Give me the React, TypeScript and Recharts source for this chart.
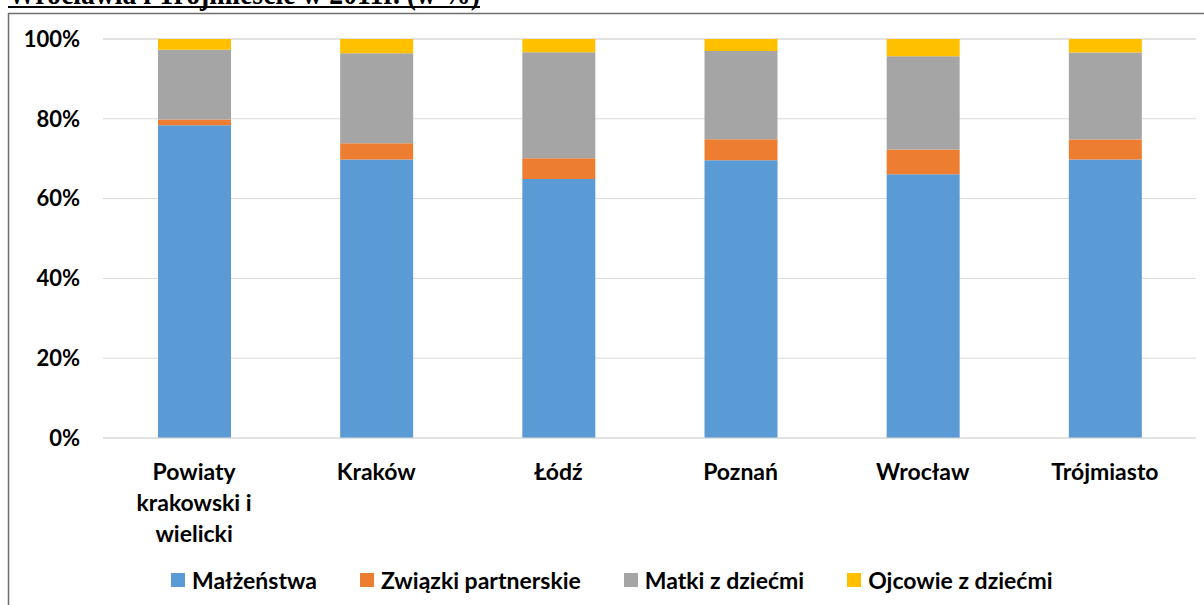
import React from 'react';
import { BarChart, Bar, XAxis, YAxis, CartesianGrid, Legend } from 'recharts';

const categories = ['Powiaty krakowski i wielicki', 'Kraków', 'Łódź', 'Poznań', 'Wrocław', 'Trójmiasto'];
const categoryLines: Record<string, string[]> = {
  'Powiaty krakowski i wielicki': ['Powiaty', 'krakowski i', 'wielicki'],
};
const malzenstwa = [78.4, 69.8, 64.9, 69.6, 66.1, 69.8];
const zwiazki = [1.4, 4.1, 5.2, 5.3, 6.2, 5.0];
const matki = [17.5, 22.5, 26.6, 22.1, 23.4, 21.8];
const ojcowie = [2.7, 3.6, 3.3, 3.0, 4.3, 3.4];
const yTicks = [0, 20, 40, 60, 80, 100];
const title = 'Wrocławia i Trójmieście w 2011r. (w %)';

const SERIES = [
  { key: 'malzenstwa', name: 'Małżeństwa', color: '#5B9BD5' },
  { key: 'zwiazki', name: 'Związki partnerskie', color: '#ED7D31' },
  { key: 'matki', name: 'Matki z dziećmi', color: '#A5A5A5' },
  { key: 'ojcowie', name: 'Ojcowie z dziećmi', color: '#FFC000' },
];

const data = categories.map((name, i) => ({
  name,
  malzenstwa: malzenstwa[i],
  zwiazki: zwiazki[i],
  matki: matki[i],
  ojcowie: ojcowie[i],
}));

const FONT = 'Lato, "Open Sans", sans-serif';

const CategoryTick = ({ x, y, payload }: { x?: number; y?: number; payload?: { value: string } }) => {
  const value = payload?.value ?? '';
  const lines = categoryLines[value] ?? [value];
  return (
    <text x={x} y={(y ?? 0) + 42} textAnchor="middle" fontFamily={FONT} fontWeight={700} fontSize={23} fill="#000">
      {lines.map((line, i) => (
        <tspan key={line} x={x} dy={i === 0 ? 0 : 31}>
          {line}
        </tspan>
      ))}
    </text>
  );
};

const LegendContent = () => (
  <div
    style={{
      display: 'flex',
      alignItems: 'center',
      height: 28,
      paddingLeft: 171,
      fontFamily: FONT,
      fontWeight: 700,
      fontSize: 23,
      color: '#000',
    }}
  >
    {SERIES.map((s) => (
      <div key={s.key} style={{ display: 'flex', alignItems: 'center', marginRight: 43 }}>
        <span style={{ width: 14, height: 14, background: s.color, marginRight: 7, display: 'inline-block' }} />
        <span>{s.name}</span>
      </div>
    ))}
  </div>
);

export default function App() {
  return (
    <div style={{ position: 'absolute', left: 0, top: 0, width: 1204, height: 605, background: '#fff', overflow: 'hidden' }}>
      <svg width={1204} height={605} style={{ position: 'absolute', left: 0, top: 0 }}>
        <text
          x={8}
          y={4}
          fontFamily='"Liberation Serif", serif'
          fontWeight={700}
          fontSize={32}
          fill="#000"
          textLength={472}
          lengthAdjust="spacingAndGlyphs"
        >
          {title}
        </text>
        <line x1={8} y1={7} x2={480} y2={7} stroke="#000" strokeWidth={1.8} />
        <line x1={8.5} y1={13} x2={8.5} y2={605} stroke="#6e6e6e" strokeWidth={1.5} />
        <line x1={8} y1={13.5} x2={1204} y2={13.5} stroke="#6e6e6e" strokeWidth={1.5} />
      </svg>
      <div style={{ position: 'absolute', left: 0, top: 0 }}>
        <BarChart
          width={1204}
          height={605}
          data={data}
          margin={{ top: 39, right: 8, left: 0, bottom: 11 }}
          barSize={73}
        >
          <CartesianGrid vertical={false} stroke="#d9d9d9" />
          <XAxis
            dataKey="name"
            axisLine={{ stroke: '#d9d9d9' }}
            tickLine={false}
            tickSize={0}
            tickMargin={0}
            height={128}
            interval={0}
            tick={<CategoryTick />}
          />
          <YAxis
            domain={[0, 100]}
            ticks={yTicks}
            width={103}
            axisLine={false}
            tickLine={false}
            tickSize={0}
            tickMargin={23}
            tickFormatter={(v: number) => `${v}%`}
            tick={{ fontFamily: FONT, fontWeight: 700, fontSize: 22, fill: '#000' }}
          />
          <Legend verticalAlign="bottom" content={<LegendContent />} wrapperStyle={{ left: 0, width: 1204 }} />
          {SERIES.map((s) => (
            <Bar key={s.key} dataKey={s.key} name={s.name} stackId="a" fill={s.color} isAnimationActive={false} />
          ))}
        </BarChart>
      </div>
    </div>
  );
}
